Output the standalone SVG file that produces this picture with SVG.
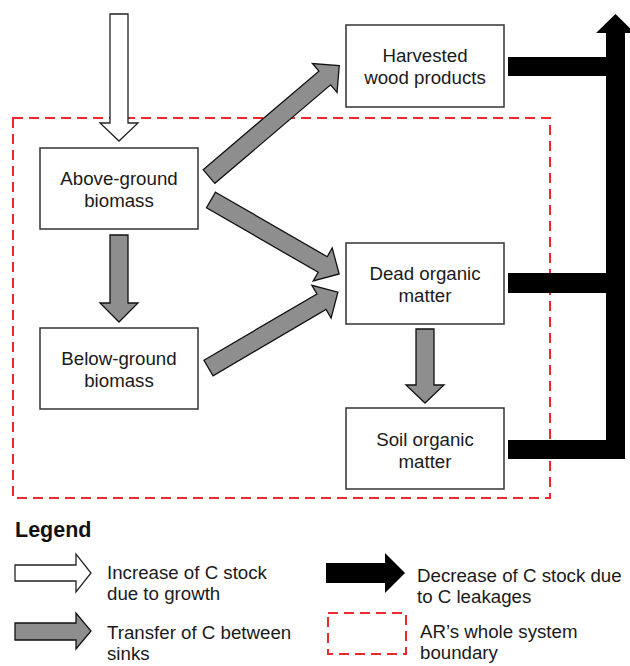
<svg xmlns="http://www.w3.org/2000/svg" width="630" height="666" viewBox="0 0 630 666">
<style>
.box{fill:#fff;stroke:#333;stroke-width:1.5}
.t{font-family:"Liberation Sans",Arial,sans-serif;font-size:18.7px;fill:#1a1a1a;text-anchor:middle}
.lt{font-family:"Liberation Sans",Arial,sans-serif;font-size:18.7px;fill:#1a1a1a}
.gray{fill:#8e8e8e;stroke:#111;stroke-width:1.3;stroke-linejoin:miter}
.white{fill:#fff;stroke:#222;stroke-width:1.3}
.blk{fill:#000}
.bound{fill:none;stroke:#f0282d;stroke-width:2;stroke-dasharray:10 6}
</style>
<rect width="630" height="666" fill="#fff"/>
<g id="boundary"><rect class="bound" x="13" y="118" width="537" height="380"/></g>
<g id="connectors">
<path class="white" d="M110,14 H128 V123 H138 L119,141 L100,123 H110 Z"/>
<path class="gray" d="M110,235 H128 V303 H138 L119,322 L100,303 H110 Z"/>
<path class="gray" d="M416,329 H434 V385 H444 L425,403 L406,385 H416 Z"/>
<path class="gray" transform="translate(209,176.5) rotate(-40.4)" d="M0,-9 H152 V-19 L171,0 L152,19 V9 H0 Z"/>
<path class="gray" transform="translate(211,200) rotate(30)" d="M0,-9 H129 V-19 L148,0 L129,19 V9 H0 Z"/>
<path class="gray" transform="translate(208.5,368) rotate(-30.4)" d="M0,-9 H131 V-19 L150,0 L131,19 V9 H0 Z"/>
<path class="blk" d="M508,57 H606 V33 H596 L615.5,14 L635,33 H625 V459 H508 V440 H606 V293 H508 V273 H606 V76 H508 Z"/>
</g>
<g id="above-ground"><rect class="box" x="40" y="148" width="158" height="81"/><text class="t" x="119" y="185">Above-ground</text><text class="t" x="119" y="207">biomass</text></g>
<g id="below-ground"><rect class="box" x="40" y="328" width="158" height="81"/><text class="t" x="119" y="365">Below-ground</text><text class="t" x="119" y="387">biomass</text></g>
<g id="harvested"><rect class="box" x="346" y="25" width="158" height="82"/><text class="t" x="425" y="62">Harvested</text><text class="t" x="425" y="84">wood products</text></g>
<g id="dead"><rect class="box" x="346" y="243" width="158" height="81"/><text class="t" x="425" y="280">Dead organic</text><text class="t" x="425" y="302">matter</text></g>
<g id="soil"><rect class="box" x="346" y="408" width="158" height="81"/><text class="t" x="425" y="446">Soil organic</text><text class="t" x="425" y="468">matter</text></g>
<g id="legend">
<text x="15" y="537" style="font-family:'Liberation Sans',Arial,sans-serif;font-size:21.5px;font-weight:bold;fill:#111">Legend</text>
<path class="white" d="M15,565 H76 V554 L91,573 L76,592 V581 H15 Z"/>
<text class="lt" x="107" y="579">Increase of C stock</text>
<text class="lt" x="107" y="600">due to growth</text>
<path class="gray" d="M15,623 H76 V613 L91,631 L76,649 V640 H15 Z"/>
<text class="lt" x="107" y="639">Transfer of C between</text>
<text class="lt" x="107" y="660">sinks</text>
<path class="blk" d="M326,563 H385 V553 L405,573 L385,593 V583 H326 Z"/>
<text class="lt" x="417" y="582">Decrease of C stock due</text>
<text class="lt" x="417" y="603">to C leakages</text>
<rect class="bound" x="328" y="613" width="78" height="41"/>
<text class="lt" x="420" y="638">AR’s whole system</text>
<text class="lt" x="420" y="659">boundary</text>
</g>
</svg>
